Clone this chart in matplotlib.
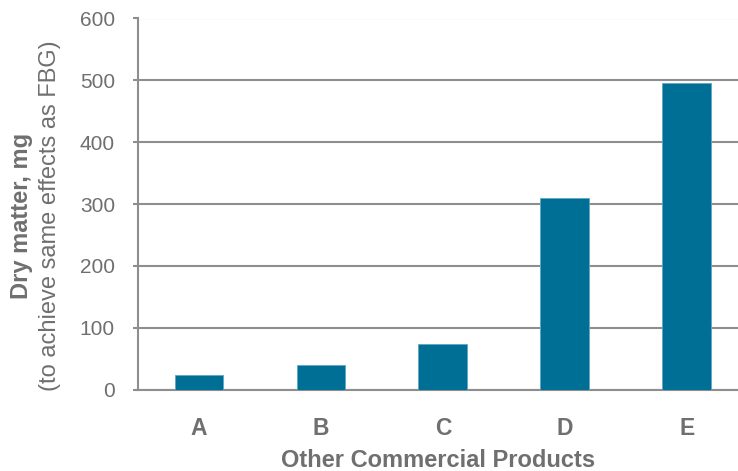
import matplotlib
matplotlib.use("Agg")
import matplotlib.pyplot as plt
import numpy as np

# data
products = ["A", "B", "C", "D", "E"]
dry_matter = [24, 39, 74, 310, 495]
y_ticks = [0, 100, 200, 300, 400, 500, 600]

BAR_COLOR = "#006f96"
GRID_COLOR = "#8e8e8e"
TEXT_COLOR = "#6f6f6f"

plt.rcParams["font.family"] = ["Liberation Sans", "DejaVu Sans"]

W, H = 738, 471
fig = plt.figure(figsize=(W / 100, H / 100), dpi=100)
# axes box in pixels: left 138, top 18.5, bottom 389.5
left, top, bottom = 138, 18.5, 389.5
ax = fig.add_axes([left / W, 1 - bottom / H, 1 - left / W, (bottom - top) / H])

x = np.arange(len(products))
ax.bar(x, dry_matter, width=0.4, color=BAR_COLOR, edgecolor="#5fa6c4",
       linewidth=0.6, zorder=3)

ax.set_ylim(0, 600)
ax.set_yticks(y_ticks)
ax.set_xlim(-0.5, 4.42)
ax.set_xticks(x)
ax.set_xticklabels(products, fontweight="bold", fontsize=16.5)

ax.yaxis.grid(True, color=GRID_COLOR, linewidth=1.5, zorder=0)
ax.set_axisbelow(True)
for s in ["top", "right"]:
    ax.spines[s].set_visible(False)
ax.spines["bottom"].set_color(GRID_COLOR)
ax.spines["bottom"].set_linewidth(1.5)
ax.spines["left"].set_color(GRID_COLOR)
ax.spines["left"].set_linewidth(1.5)

ax.tick_params(axis="y", length=3.6, width=1.5, color=GRID_COLOR,
               pad=13, labelsize=15, labelcolor=TEXT_COLOR)
ax.tick_params(axis="x", length=0, pad=20, labelcolor=TEXT_COLOR)

ax.set_xlabel("Other Commercial Products", fontsize=17, fontweight="bold",
              color=TEXT_COLOR, labelpad=6)

fig.text(22 / W, 1 - 216 / H, "Dry matter, mg", rotation=90, ha="center",
         va="center", fontsize=17, fontweight="bold", color=TEXT_COLOR)
fig.text(50 / W, 1 - 216 / H, "(to achieve same effects as FBG)", rotation=90,
         ha="center", va="center", fontsize=17, color=TEXT_COLOR)

fig.savefig("out.png", dpi=100)
